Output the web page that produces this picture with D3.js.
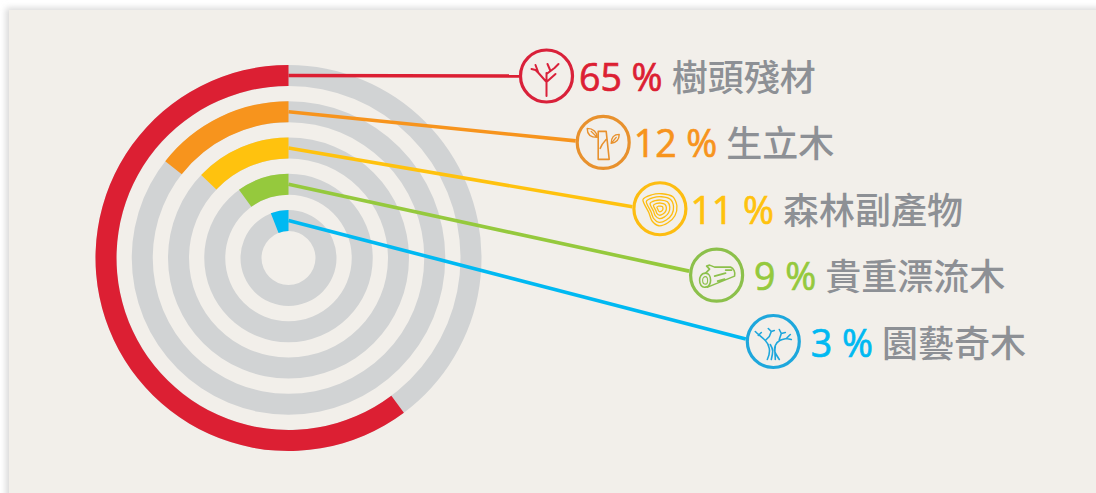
<!DOCTYPE html>
<html>
<head>
<meta charset="utf-8">
<script src="https://cdnjs.cloudflare.com/ajax/libs/d3/7.8.5/d3.min.js"></script>
<style>
    html, body { margin: 0; padding: 0; background: #fff; }
    svg { display: block; }
    .pct { font-family: "Open Sans", "Noto Sans", sans-serif; font-size: 37.5px; font-weight: 400; stroke-width: 0.7px; }
    .name { font-family: "Noto Sans CJK TC", sans-serif; font-size: 36px; font-weight: 500; fill: #8d9095; }
</style>
</head>
<body>
<div id="chart"></div>
<script>
// Chart data
const names = ["樹頭殘材", "生立木", "森林副產物", "貴重漂流木", "園藝奇木"];
const percents = [65, 12, 11, 9, 3];
// the drawn arcs are not to the same scale as the printed percents
const arcShares = [60.2, 14.4, 12.9, 10, 6];

// Styles per row
const arcColors = ["#dc1f33", "#f7941d", "#ffc20e", "#95c93d", "#00b9f2"];
const ringColors = ["#d9213a", "#e8912d", "#fdbd12", "#8cc04b", "#1ea7dc"];
const leaderLift = [0, 1.5, 2, 4, 2.5];
const labelGap = [5, 3, 3, 10, 10];

const width = 1096, height = 493;
const cx = 288.5, cy = 258;
const ringWidth = 21, badgeR = 27.5;

const svg = d3.select("#chart").append("svg")
    .attr("width", width)
    .attr("height", height);

// Panel with its soft shadow
const defs = svg.append("defs");
const blur = defs.append("filter").attr("id", "soft")
    .attr("x", "-5%").attr("y", "-5%").attr("width", "110%").attr("height", "110%");
blur.append("feGaussianBlur").attr("stdDeviation", 3);
svg.append("rect").attr("x", 6).attr("y", 8).attr("width", width).attr("height", height)
    .attr("fill", "#d8d8d8").attr("filter", "url(#soft)");
svg.append("rect").attr("x", 9).attr("y", 10).attr("width", width).attr("height", height)
    .attr("fill", "#f2efea");

const idx = d3.range(names.length);
const outerR = d3.scaleLinear().domain([0, 4]).range([193, 48]);
const angle = d3.scaleLinear().domain([0, 100]).range([0, -2 * Math.PI]);
const badgeX = d3.scaleLinear().domain([0, 4]).range([546.5, 773.3]);
const badgeY = d3.scaleLinear().domain([0, 4]).range([76, 341.5]);

const arc = d3.arc();
const rings = svg.append("g").attr("transform", `translate(${cx},${cy})`);

// Gray full rings
rings.selectAll("path.track").data(idx).join("path")
    .attr("class", "track")
    .attr("fill", "#d1d3d4")
    .attr("d", i => arc({ innerRadius: outerR(i) - ringWidth, outerRadius: outerR(i), startAngle: 0, endAngle: 2 * Math.PI }));

// Coloured part of each ring, counterclockwise from the top
rings.selectAll("path.share").data(idx).join("path")
    .attr("class", "share")
    .attr("fill", i => arcColors[i])
    .attr("d", i => arc({ innerRadius: outerR(i) - ringWidth, outerRadius: outerR(i), startAngle: 0, endAngle: angle(arcShares[i]) }));

// Leader lines from the ring top to the badge
svg.selectAll("line.leader").data(idx).join("line")
    .attr("class", "leader")
    .attr("x1", cx)
    .attr("y1", i => cy - outerR(i) + ringWidth / 2)
    .attr("x2", i => badgeX(i) - badgeR)
    .attr("y2", i => badgeY(i) - leaderLift[i])
    .attr("stroke", i => arcColors[i])
    .attr("stroke-width", 3.6);

// Badges
const badges = svg.selectAll("g.badge").data(idx).join("g")
    .attr("class", "badge")
    .attr("transform", i => `translate(${badgeX(i)},${badgeY(i)})`);

badges.append("circle")
    .attr("r", badgeR - 1.5)
    .attr("fill", "none")
    .attr("stroke", i => ringColors[i])
    .attr("stroke-width", 3.2);

// Icons, drawn around each badge's centre
function iconPath(g, d, color, sw) {
    g.append("path").attr("d", d).attr("fill", "none")
        .attr("stroke", color).attr("stroke-width", sw)
        .attr("stroke-linecap", "round").attr("stroke-linejoin", "round");
}

// stump with shoots
iconPath(badges.filter(i => i === 0),
    "M0 20V0M0 6L-8 -3L-11 -6M-8 -3L-11 -11M-11 -6L-15 -7M0 0L0 -3M0 6L9 -2M0 -2L8 -8L12 -12M4 -5L1 -12",
    ringColors[0], 2);

// standing tree
const stump = badges.filter(i => i === 1);
iconPath(stump, "M-5 17V-11H3L6 17ZM3 -3L-1 2L-3 6", ringColors[1], 1.6);
iconPath(stump, "M-16 -14C-10 -14 -6 -10 -6 -5C-12 -5 -16 -8 -16 -14ZM-6 -5L-12 -11", ringColors[1], 1.4);
iconPath(stump, "M16 -8C11 -8 8 -5 8 1C13 0 16 -3 16 -8ZM8 1L13 -5", ringColors[1], 1.4);

// growth rings
const blob = [[-17, -9], [-8, -14], [2, -15], [13, -12], [17, -3], [15, 7], [8, 14], [-1, 17], [-8, 12], [-11, 4]];
const blobLine = d3.line().curve(d3.curveCardinalClosed.tension(0.2));
const blobScales = [1, 0.8, 0.58, 0.38, 0.18];
badges.filter(i => i === 2).selectAll("path.growth").data(blobScales).join("path")
    .attr("class", "growth")
    .attr("d", s => blobLine(blob.map(p => [p[0] * s, p[1] * s])))
    .attr("fill", "none")
    .attr("stroke", ringColors[2])
    .attr("stroke-width", 1.3);

// log
const log = badges.filter(i => i === 3);
iconPath(log, "M-11 -2C-16 -2 -17 3 -17 5C-17 9 -15 13 -11 12C-7 12 -6 7 -6 5C-6 1 -8 -2 -11 -2Z", ringColors[3], 1.6);
iconPath(log, "M-11 1.5C-13 1.5 -14 3.5 -14 5C-14 7 -13 9 -11 9C-9 9 -9 6.5 -9 5C-9 3 -10 1.5 -11 1.5Z", ringColors[3], 1.1);
iconPath(log, "M-11 -2L-7 -6L-10 -9L-7 -10L-2 -8L14 -8C17 -7 19 -3 18 1L-9 12M-2 1L9 -2M1 6L8 4M9 -5L15 -5", ringColors[3], 1.6);

// branching tree
iconPath(badges.filter(i => i === 4),
    "M-6 18C-2 10 -4 3 -8 -1C-12 -5 -15 -7 -18 -10M-15 -6L-12 -9M-8 -1L-4 -5L-2 -10L1 -11M-2 -10L-5 -13M6 18C2 12 0 9 2 4C4 -1 8 -2 13 -3L17 -7M13 -3L18 -2M6 -2L8 -8L12 -9M8 -8L6 -12M-2 18C0 10 0 8 -3 3M2 18C2 13 1 10 2 5",
    ringColors[4], 1.6);

// Labels: percent then name
const labels = svg.selectAll("g.label").data(idx).join("g")
    .attr("class", "label")
    .attr("transform", i => `translate(${badgeX(i) + badgeR + labelGap[i]},${badgeY(i) + 15})`);

labels.append("text")
    .attr("class", "pct")
    .attr("fill", i => arcColors[i])
    .attr("stroke", i => arcColors[i])
    .text(i => percents[i] + " %");

labels.append("text")
    .attr("class", "name")
    .attr("x", function (i) {
        return this.parentNode.querySelector(".pct").getComputedTextLength() + 9;
    })
    .text(i => names[i]);
</script>
</body>
</html>
